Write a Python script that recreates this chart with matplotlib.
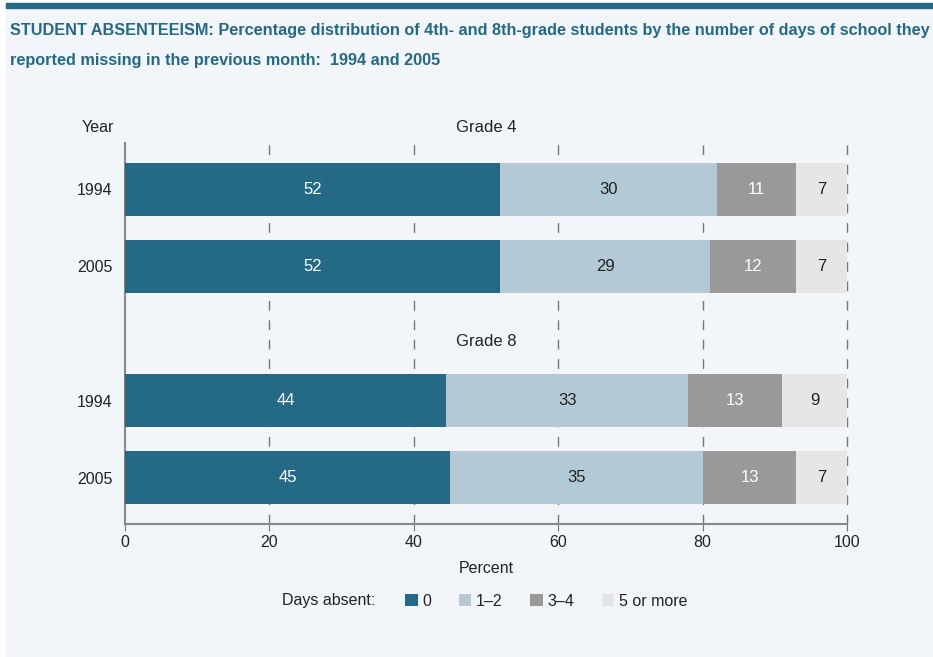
import numpy as np
import matplotlib.pyplot as plt
from matplotlib.patches import Rectangle

plt.rcParams['font.family'] = ['Liberation Sans', 'DejaVu Sans']

# data
years = ['1994', '2005', '1994', '2005']
groups = ['Grade 4', 'Grade 8']
categories = ['0', '1\u20132', '3\u20134', '5 or more']
days_0 = [52, 52, 44.5, 45]
days_1_2 = [30, 29, 33.5, 35]
days_3_4 = [11, 12, 13, 13]
days_5 = [7, 7, 9, 7]
shown_0 = [52, 52, 44, 45]
shown_1_2 = [30, 29, 33, 35]

colors = ['#246a87', '#b3cad6', '#999999', '#e6e6e6']
text_colors = ['white', '#222222', 'white', '#222222']
bg = '#f2f5f9'
dark = '#222222'
fs = 11.5

fig = plt.figure(figsize=(9.33, 6.57), dpi=100, facecolor='white')
W, H = 933, 657
fig.patches.append(Rectangle((6 / W, 0), 1, (H - 3) / H, transform=fig.transFigure,
                             color=bg, zorder=-10))
fig.patches.append(Rectangle((6 / W, (H - 8) / H), 1, 5 / H, transform=fig.transFigure,
                             color='#246a87', zorder=-9))

ax = fig.add_axes([125 / W, (H - 524) / H, (847 - 125) / W, (524 - 143) / H])
ax.set_facecolor('none')

gap = 135 / 77
ypos = np.array([0, 1, 1 + gap, 2 + gap])
bar_h = 53 / 77

series = [days_0, days_1_2, days_3_4, days_5]
shown = [shown_0, shown_1_2, days_3_4, days_5]
left = np.zeros(len(years))
for vals, lab_vals, c, tc, name in zip(series, shown, colors, text_colors, categories):
    vals = np.array(vals, dtype=float)
    ax.barh(ypos, vals, left=left, height=bar_h, color=c, zorder=3, label=name)
    for y, l, v, t in zip(ypos, left, vals, lab_vals):
        ax.text(l + v / 2, y, str(t), ha='center', va='center', color=tc,
                fontsize=fs + 0.5, zorder=4)
    left += vals

ax.set_xlim(0, 100)
ax.set_ylim(2 + gap + 0.604, -0.604)
ax.set_yticks(ypos)
ax.set_yticklabels(years, fontsize=fs, color=dark)
ax.set_xticks([0, 20, 40, 60, 80, 100])
ax.tick_params(axis='x', labelsize=fs, colors=dark, length=5, color='#777777', pad=3)
ax.tick_params(axis='y', length=0, pad=9)
for x in [20, 40, 60, 80, 100]:
    ax.axvline(x, color='#777777', lw=1, ls=(0, (7, 7)), zorder=1, clip_on=False)
for s in ['top', 'right']:
    ax.spines[s].set_visible(False)
for s in ['left', 'bottom']:
    ax.spines[s].set_color('#888888')
    ax.spines[s].set_linewidth(1.5)

ax.set_xlabel('Percent', fontsize=fs, color=dark, labelpad=8)
fig.text(486 / W, 1 - 127 / H, groups[0], ha='center', va='center', fontsize=fs + 0.5,
         color=dark)
fig.text(486 / W, 1 - 341 / H, groups[1], ha='center', va='center', fontsize=fs + 0.5,
         color=dark)
fig.text(98 / W, 1 - 127 / H, 'Year', ha='center', va='center', fontsize=fs,
         color=dark)

fig.text(10 / W, 1 - 30 / H,
         'STUDENT ABSENTEEISM: Percentage distribution of 4th- and 8th-grade students by the number of days of school they',
         ha='left', va='center', fontsize=11.7, fontweight='bold', color='#246a87')
fig.text(10 / W, 1 - 60 / H,
         'reported missing in the previous month:  1994 and 2005',
         ha='left', va='center', fontsize=11.7, fontweight='bold', color='#246a87')

fig.text(375 / W, 1 - 601 / H, 'Days absent:', ha='right', va='center', fontsize=fs,
         color=dark)
handles, labels = ax.get_legend_handles_labels()
leg = fig.legend(handles, labels, loc='center left', bbox_to_anchor=(405 / W, 1 - 601 / H),
                 ncols=4, frameon=False, fontsize=fs, handlelength=0.8, handleheight=0.8,
                 handletextpad=0.3, columnspacing=1.7, borderaxespad=0, borderpad=0)
for t in leg.get_texts():
    t.set_color(dark)

fig.savefig('out.png', dpi=100, facecolor=fig.get_facecolor())
